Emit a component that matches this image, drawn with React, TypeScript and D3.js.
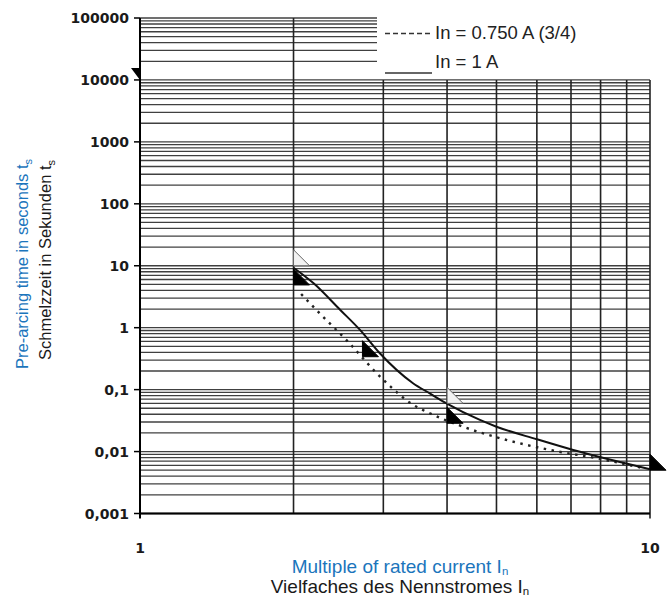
import React from 'react';
import * as d3 from 'd3';

const W = 671;
const H = 599;

// axes
const xDomain: [number, number] = [1, 10];
const yDomain: [number, number] = [0.001, 100000];
const xTickValues = [1, 10];
const xTickLabels = ['1', '10'];
const yTickValues = [0.001, 0.01, 0.1, 1, 10, 100, 1000, 10000, 100000];
const yTickLabels = ['0,001', '0,01', '0,1', '1', '10', '100', '1000', '10000', '100000'];
const xGridValues = [2, 3, 4, 5, 6, 7, 8, 9, 10];
const yMultipliers = [1, 2, 3, 4, 5, 6, 7, 8, 9];
const legendCutValue = 10000; // grid above this is hidden on the right by the legend

// series: [multiple of In, pre-arcing time s]
const curve1A: [number, number][] = [
  [2.0, 9.3], [2.19, 5.2], [2.47, 1.93], [2.70, 0.92], [2.95, 0.39],
  [3.43, 0.127], [3.70, 0.087], [3.99, 0.060], [4.64, 0.0324], [5.0, 0.0252],
  [6.0, 0.0158], [7.07, 0.0106], [10, 0.0052],
];
const curve075A: [number, number][] = [
  [2.07, 3.5], [2.25, 1.71], [2.54, 0.63], [2.95, 0.165], [3.43, 0.057],
  [3.70, 0.0415], [4.30, 0.0252], [5.40, 0.0144], [6.37, 0.0106], [7.86, 0.0078], [9.7, 0.0054],
];

// tolerance markers (right-angle corner at x,y)
const markerX = [2, 2, 2.73, 4, 4, 10];
const markerY = [10, 4.9, 0.34, 0.06, 0.0286, 0.005];
const markerFilled = [false, true, true, false, true, true];
const topMarker: [number, number] = [1, 10000];

const legendLabels = ['In = 0.750 A (3/4)', 'In = 1 A'];
const yTitleBlue = 'Pre-arcing time in seconds t';
const yTitleBlack = 'Schmelzzeit in Sekunden t';
const xTitleBlue = 'Multiple of rated current I';
const xTitleBlack = 'Vielfaches des Nennstromes I';

const BLUE = '#1b75bc';
const FONT = '"Liberation Sans", Arial, Helvetica, sans-serif';

export default function App() {
  const x = d3.scaleLog().domain(xDomain).range([140, 650]);
  const y = d3.scaleLog().domain(yDomain).range([513.5, 18]);
  const legendLeft = 377;

  const hValues: number[] = [];
  for (let d = 0.001; d < 100000 * 0.99; d *= 10) {
    yMultipliers.forEach((m) => hValues.push(+(m * d).toPrecision(6)));
  }
  hValues.push(100000);

  const line = d3
    .line<[number, number]>()
    .x((d) => x(d[0]))
    .y((d) => y(d[1]))
    .curve(d3.curveMonotoneX);

  const tri = (cx: number, cy: number, w = 16, h = 16) =>
    `M${cx},${cy} L${cx},${cy - h} L${cx + w},${cy} Z`;

  return (
    <svg
      width={W}
      height={H}
      style={{ position: 'absolute', left: 0, top: 0, display: 'block', background: '#fff' }}
    >
      <rect x={0} y={0} width={W} height={H} fill="#fff" />
      {/* horizontal grid */}
      {hValues.map((v, i) => (
        <line
          key={'h' + i}
          x1={x(1)}
          x2={v > legendCutValue * 1.001 ? legendLeft : x(10)}
          y1={y(v)}
          y2={y(v)}
          stroke="#404040"
          strokeWidth={1.3}
        />
      ))}
      {/* vertical grid */}
      {xGridValues.map((v) => (
        <line
          key={'v' + v}
          x1={x(v)}
          x2={x(v)}
          y1={v === 2 ? y(100000) : y(legendCutValue)}
          y2={v === 10 ? y(0.001) + 5 : y(0.001)}
          stroke="#222"
          strokeWidth={1.6}
        />
      ))}
      {/* axes */}
      <line x1={x(1)} x2={x(1)} y1={y(100000)} y2={y(0.001) + 5} stroke="#000" strokeWidth={2} />
      <line x1={x(1)} x2={x(10)} y1={y(0.001)} y2={y(0.001)} stroke="#000" strokeWidth={2} />
      {yTickValues.map((v, i) => (
        <g key={'yt' + i}>
          <line x1={x(1) - 6} x2={x(1)} y1={y(v)} y2={y(v)} stroke="#000" strokeWidth={1.5} />
          <text
            x={129}
            y={y(v)}
            dy="0.36em"
            textAnchor="end"
            fontFamily='"DejaVu Sans", sans-serif'
            fontWeight="bold"
            fontSize={14}
            fill="#1a1a1a"
          >
            {yTickLabels[i]}
          </text>
        </g>
      ))}
      {xTickValues.map((v, i) => (
        <text
          key={'xt' + i}
          x={x(v)}
          y={553}
          textAnchor="middle"
          fontFamily='"DejaVu Sans", sans-serif'
          fontWeight="bold"
          fontSize={14}
          fill="#1a1a1a"
        >
          {xTickLabels[i]}
        </text>
      ))}

      {/* curves */}
      <path d={line(curve075A) || ''} fill="none" stroke="#222" strokeWidth={2.4} strokeDasharray="2.5 5.5" />
      <path d={line(curve1A) || ''} fill="none" stroke="#111" strokeWidth={2} />

      {/* markers */}
      {markerX.map((mx, i) => (
        <path
          key={'m' + i}
          d={tri(x(mx), y(markerY[i]))}
          fill={markerFilled[i] ? '#000' : '#f2f2f2'}
          stroke={markerFilled[i] ? '#000' : '#666'}
          strokeWidth={1}
        />
      ))}
      <path
        d={`M${x(topMarker[0])},${y(topMarker[1])} L${x(topMarker[0])},${y(topMarker[1]) - 12} L${
          x(topMarker[0]) - 9
        },${y(topMarker[1]) - 12} Z`}
        fill="#000"
      />

      {/* legend */}
      <line x1={385} x2={433} y1={33.5} y2={33.5} stroke="#333" strokeWidth={1.4} strokeDasharray="5 3" />
      <text x={435} y={38.5} fontFamily={FONT} fontSize={18.5} fill="#222">
        {legendLabels[0]}
      </text>
      <line x1={385} x2={432} y1={73} y2={73} stroke="#333" strokeWidth={1.4} />
      <text x={435} y={68} fontFamily={FONT} fontSize={18.5} fill="#222">
        {legendLabels[1]}
      </text>

      {/* axis titles */}
      <text transform="translate(28,264) rotate(-90)" textAnchor="middle" fontFamily={FONT} fontSize={16.5} fill={BLUE}>
        {yTitleBlue}
        <tspan fontSize={11} dy={4}>s</tspan>
      </text>
      <text transform="translate(51,260) rotate(-90)" textAnchor="middle" fontFamily={FONT} fontSize={16.5} fill="#1a1a1a">
        {yTitleBlack}
        <tspan fontSize={11} dy={4}>s</tspan>
      </text>
      <text x={400} y={572.5} textAnchor="middle" fontFamily={FONT} fontSize={19} fill={BLUE}>
        {xTitleBlue}
        <tspan fontSize={11.5} dy={2}>n</tspan>
      </text>
      <text x={400} y={593} textAnchor="middle" fontFamily={FONT} fontSize={19} fill="#1a1a1a">
        {xTitleBlack}
        <tspan fontSize={11.5} dy={1.5}>n</tspan>
      </text>
    </svg>
  );
}
